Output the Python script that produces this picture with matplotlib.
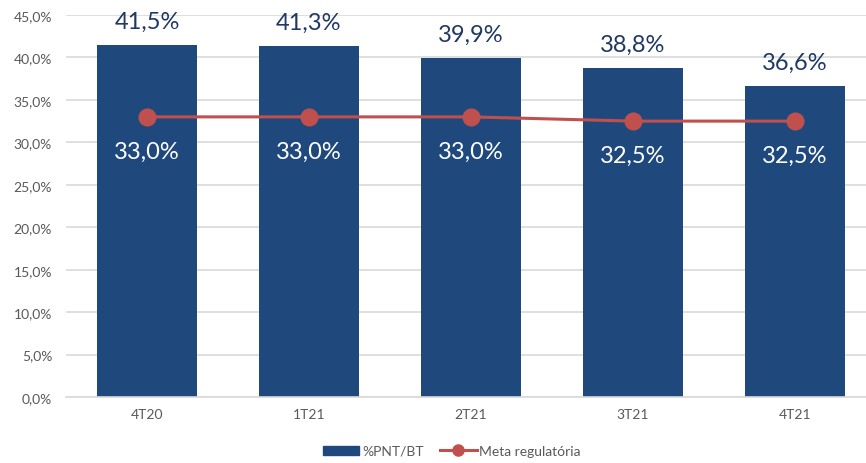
import matplotlib
matplotlib.use("Agg")
import matplotlib.pyplot as plt
from matplotlib.lines import Line2D
from matplotlib.patches import Patch

categories = ["4T20", "1T21", "2T21", "3T21", "4T21"]
pnt_bt = [41.5, 41.3, 39.9, 38.8, 36.6]
meta = [33.0, 33.0, 33.0, 32.5, 32.5]
yticks = [0, 5, 10, 15, 20, 25, 30, 35, 40, 45]

bar_color = "#1F497D"
line_color = "#C0504D"
label_dark = "#1F3864"
tick_color = "#595959"

plt.rcParams['font.family'] = ['Lato', 'DejaVu Sans']

fig = plt.figure(figsize=(8.66, 4.64), dpi=100)
ax = fig.add_axes([66/866, 66/464, 800/866, 382/464])

x = list(range(len(categories)))
ax.bar(x, pnt_bt, width=0.62, color=bar_color, zorder=2)
ax.plot(x, meta, color=line_color, linewidth=2.2, marker='o', markersize=12, zorder=3)

def fmt(v):
    return f"{v:.1f}".replace(".", ",") + "%"

for xi, v in zip(x, pnt_bt):
    ax.annotate(fmt(v), (xi, v), xytext=(0, 17), textcoords='offset points',
                ha='center', va='center', fontsize=17, color=label_dark)
for xi, v in zip(x, meta):
    ax.annotate(fmt(v), (xi, v), xytext=(0, -25), textcoords='offset points',
                ha='center', va='center', fontsize=17, color='white', zorder=4)

ax.set_xlim(-0.5, 4.44)
ax.set_ylim(0, 45)
ax.set_yticks(yticks)
ax.set_yticklabels([f"{t:.1f}".replace(".", ",") + "%" for t in yticks])
ax.set_xticks(x)
ax.set_xticklabels(categories)
ax.tick_params(axis='both', length=0, colors=tick_color, labelsize=10)
ax.tick_params(axis='y', pad=10)
ax.tick_params(axis='x', pad=8)
ax.grid(axis='y', color='#D9D9D9', linewidth=1.2, zorder=0)
ax.set_axisbelow(True)
for s in ['top', 'right', 'left']:
    ax.spines[s].set_visible(False)
ax.spines['bottom'].set_color('#D9D9D9')
ax.spines['bottom'].set_linewidth(1.2)

handles = [Patch(facecolor=bar_color, edgecolor=bar_color),
           Line2D([0], [0], color=line_color, linewidth=2.2, marker='o', markersize=8)]
fig.legend(handles, ["%PNT/BT", "Meta regulatória"], loc='center',
           bbox_to_anchor=(452/866, 1 - 452/464), ncol=2, frameon=False,
           fontsize=10, labelcolor=tick_color, handlelength=2.6, handleheight=0.6,
           handletextpad=0.2, columnspacing=1.2)

fig.savefig("out.png", dpi=100)
